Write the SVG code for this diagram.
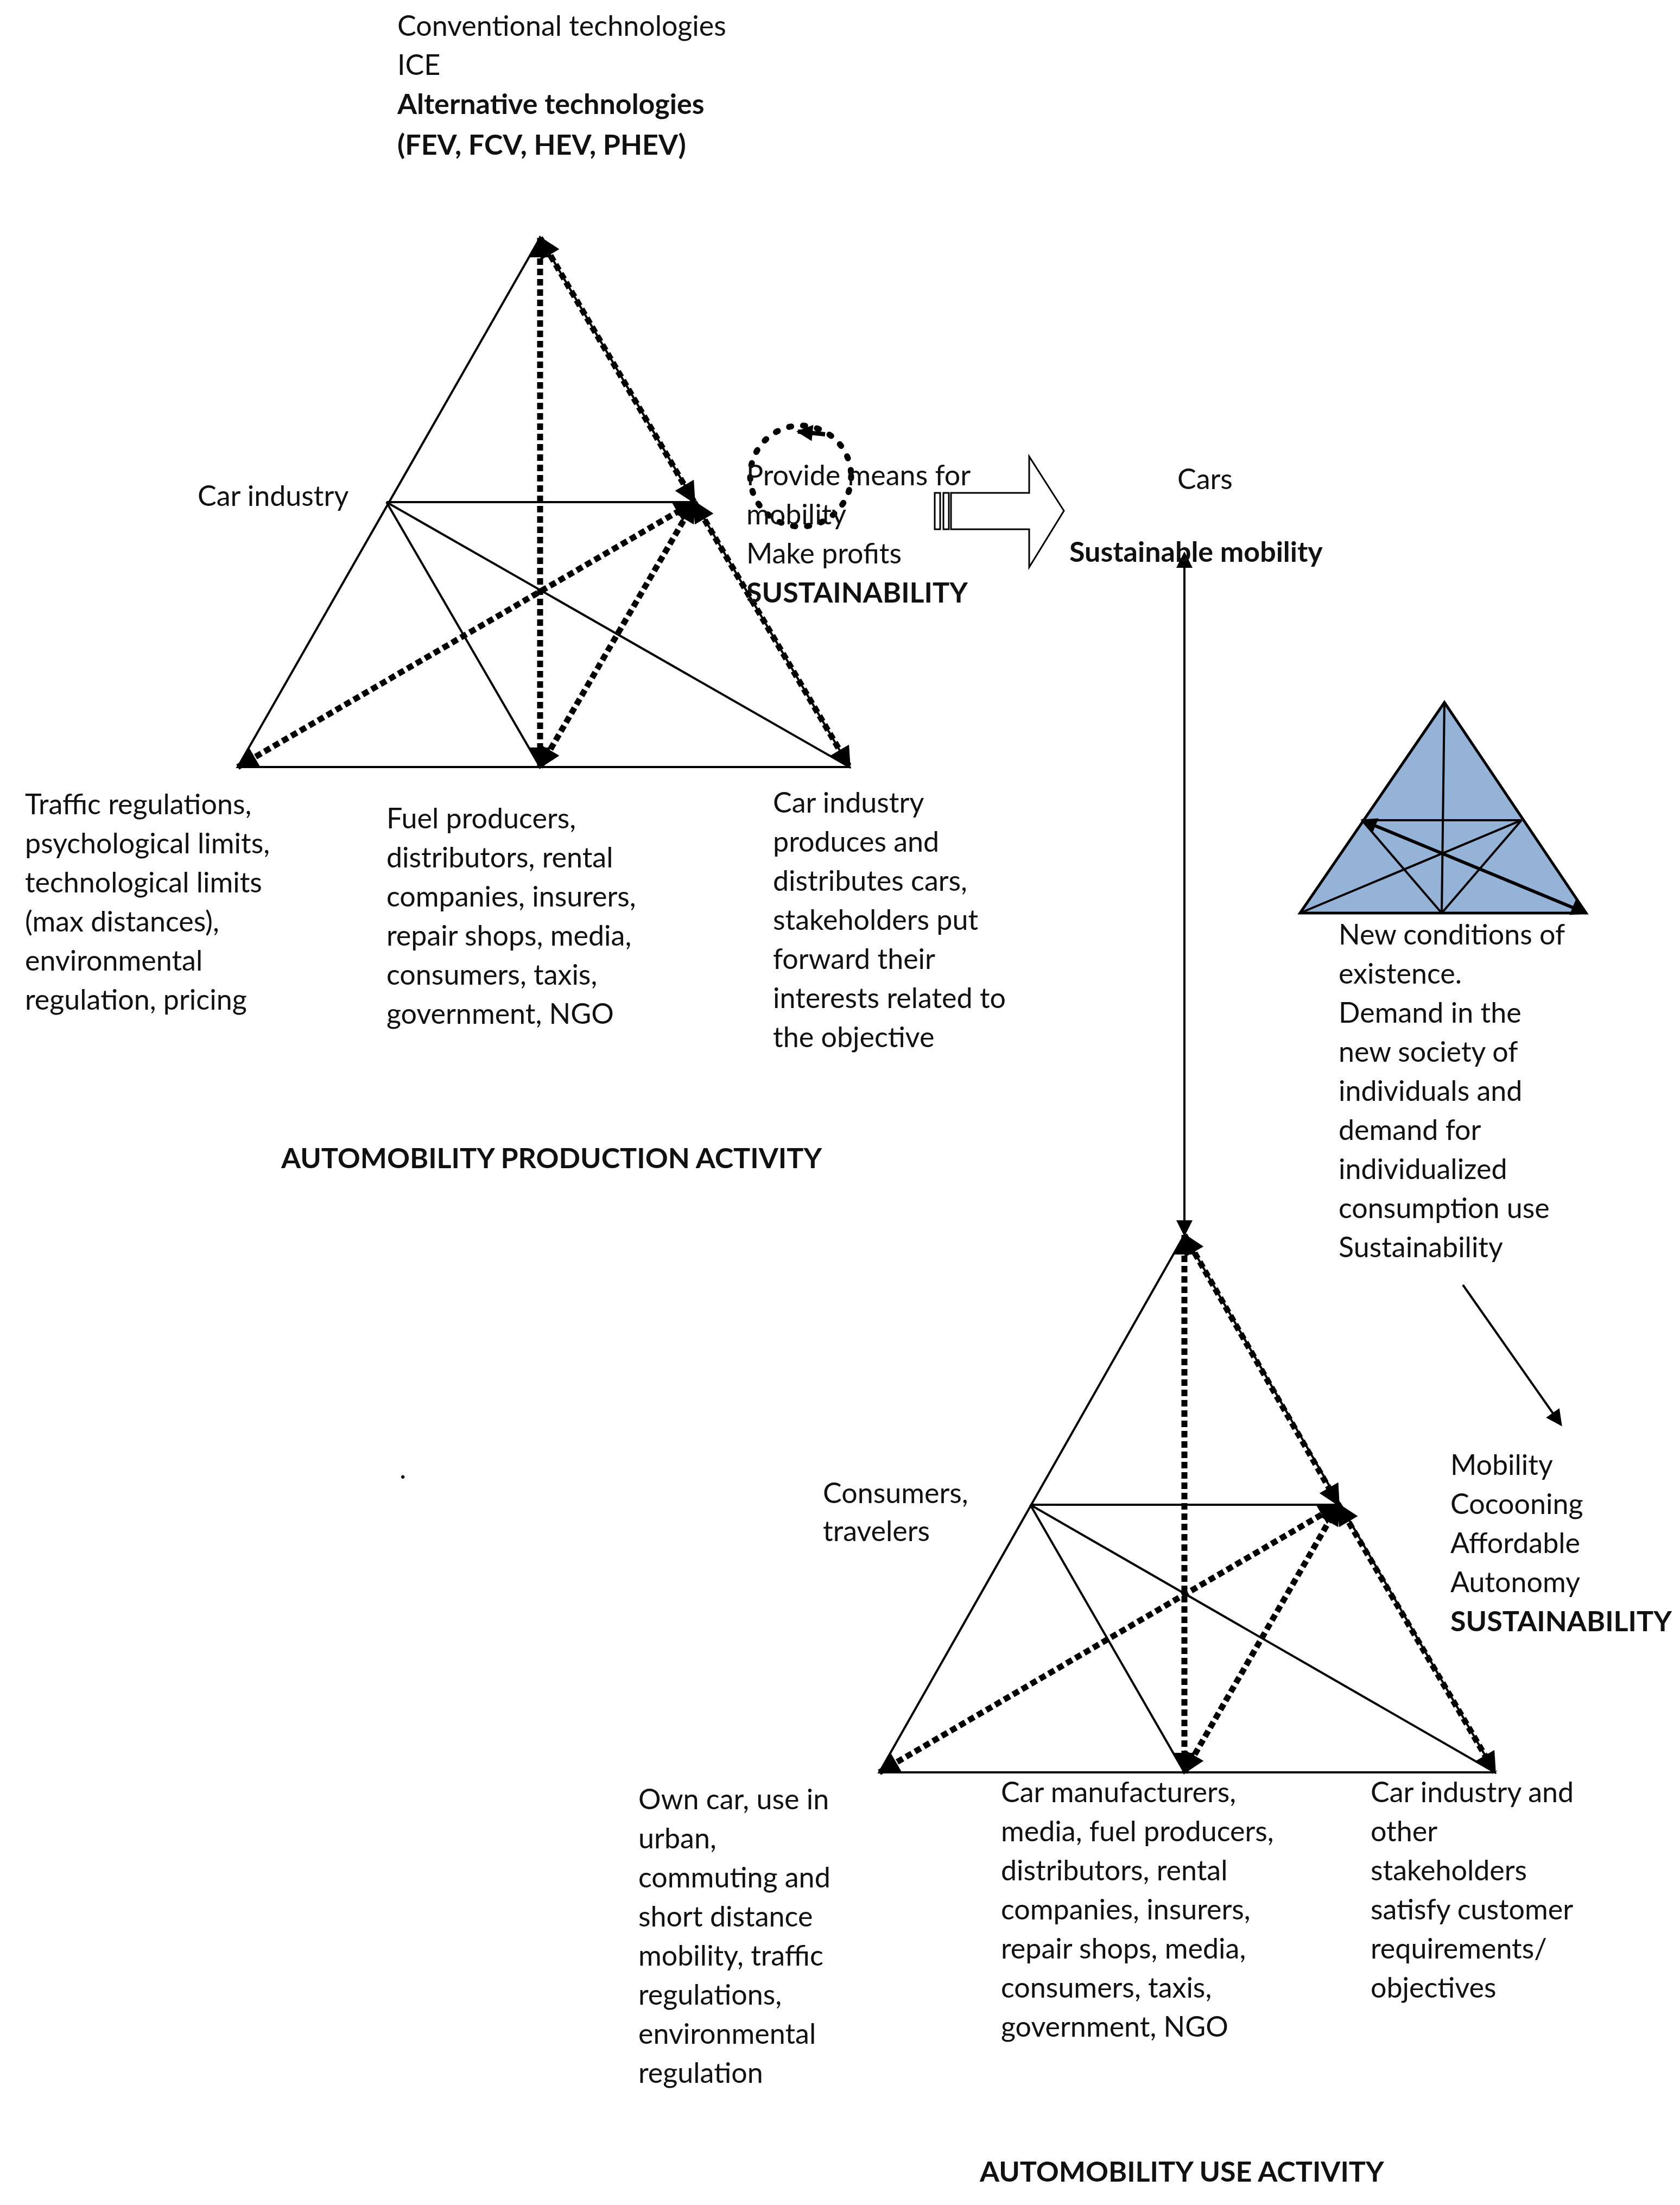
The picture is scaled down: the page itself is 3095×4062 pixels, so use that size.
<svg xmlns="http://www.w3.org/2000/svg" width="3095" height="4062" viewBox="0 0 3095 4062">
<style>
text{font-family:Lato,"Open Sans","Liberation Sans",sans-serif;font-size:52px;fill:#111}
.b{font-weight:bold}
.thin{stroke:#000;stroke-width:4;fill:none}
.dash{stroke:#000;stroke-width:11;stroke-dasharray:12 7;fill:none;marker-start:url(#ah);marker-end:url(#ah)}
</style>
<defs>
<marker id="ah" viewBox="0 0 10 10" refX="9" refY="5" markerWidth="48" markerHeight="40" markerUnits="userSpaceOnUse" orient="auto-start-reverse"><path d="M0,0 L10,5 L0,10 z" fill="#000"/></marker>
<marker id="as" viewBox="0 0 10 10" refX="9" refY="5" markerWidth="34" markerHeight="30" markerUnits="userSpaceOnUse" orient="auto-start-reverse"><path d="M0,0 L10,5 L0,10 z" fill="#000"/></marker>
</defs>
<rect width="3095" height="4062" fill="#fff"/>
<g id="top-triangle">
<polygon class="thin" points="995,438 438,1413 1565,1413"/>
<line class="thin" x1="712" y1="925" x2="1279" y2="925"/>
<line class="thin" x1="712" y1="925" x2="995" y2="1413"/>
<line class="thin" x1="712" y1="925" x2="1565" y2="1413"/>
</g>
<g id="bottom-triangle">
<polygon class="thin" points="2182,2275 1620,3265 2754,3265"/>
<line class="thin" x1="1898" y1="2772" x2="2466" y2="2772"/>
<line class="thin" x1="1898" y1="2772" x2="2182" y2="3265"/>
<line class="thin" x1="1898" y1="2772" x2="2754" y2="3265"/>
</g>
<g id="small-triangle">
<polygon points="2661,1294 2395,1682 2922,1682" fill="#95b3d7" stroke="#000" stroke-width="5"/>
<g stroke="#000" stroke-width="4" fill="none">
<line x1="2661" y1="1294" x2="2656" y2="1682"/>
<line x1="2509" y1="1511" x2="2803" y2="1511"/>
<line x1="2509" y1="1511" x2="2656" y2="1682"/>
<line x1="2803" y1="1511" x2="2656" y2="1682"/>
<line x1="2395" y1="1682" x2="2803" y2="1511"/>
<line x1="2509" y1="1511" x2="2922" y2="1682" stroke-width="6" marker-start="url(#as)" marker-end="url(#as)"/>
</g>
</g>
<g id="connectors">
<line class="dash" x1="995" y1="438" x2="995" y2="1413"/>
<line class="dash" x1="995" y1="438" x2="1279" y2="925"/>
<line class="dash" x1="1279" y1="925" x2="1565" y2="1413"/>
<line class="dash" x1="438" y1="1413" x2="1279" y2="925"/>
<line class="dash" x1="995" y1="1413" x2="1279" y2="925"/>
<line class="dash" x1="2182" y1="2275" x2="2182" y2="3265"/>
<line class="dash" x1="2182" y1="2275" x2="2466" y2="2772"/>
<line class="dash" x1="2466" y1="2772" x2="2754" y2="3265"/>
<line class="dash" x1="1620" y1="3265" x2="2466" y2="2772"/>
<line class="dash" x1="2182" y1="3265" x2="2466" y2="2772"/>
<line x1="2182" y1="1019" x2="2182" y2="2275" stroke="#000" stroke-width="4" marker-start="url(#as)" marker-end="url(#as)"/>
<line x1="2695" y1="2367" x2="2876" y2="2625" stroke="#000" stroke-width="4" marker-end="url(#as)"/>
<circle cx="1475" cy="877" r="93" fill="none" stroke="#000" stroke-width="11" stroke-dasharray="4 22" stroke-linecap="round"/>
<path d="M1520,800 L1470,795" stroke="#000" stroke-width="8" marker-end="url(#as)"/>
<g fill="#fff" stroke="#000" stroke-width="3">
<rect x="1722" y="908" width="10" height="67"/>
<rect x="1738" y="908" width="10" height="67"/>
<path d="M1752,908 L1896,908 L1896,841 L1960,941 L1896,1045 L1896,975 L1752,975 z"/>
</g>
</g>
<g id="labels">
<text x="732" y="66">Conventional technologies</text>
<text x="732" y="138">ICE</text>
<text x="732" y="210" class="b">Alternative technologies</text>
<text x="732" y="285" class="b">(FEV, FCV, HEV, PHEV)</text>
<text x="364" y="932">Car industry</text>
<text x="1375" y="894">Provide means for</text>
<text x="1375" y="966">mobility</text>
<text x="1375" y="1038">Make profits</text>
<text x="1375" y="1110" class="b">SUSTAINABILITY</text>
<text x="2169" y="901">Cars</text>
<text x="1970" y="1035" class="b">Sustainable mobility</text>
<text x="46" y="1500">Traffic regulations,<tspan x="46" dy="72">psychological limits,</tspan><tspan x="46" dy="72">technological limits</tspan><tspan x="46" dy="72">(max distances),</tspan><tspan x="46" dy="72">environmental</tspan><tspan x="46" dy="72">regulation, pricing</tspan></text>
<text x="712" y="1526">Fuel producers,<tspan x="712" dy="72">distributors, rental</tspan><tspan x="712" dy="72">companies, insurers,</tspan><tspan x="712" dy="72">repair shops, media,</tspan><tspan x="712" dy="72">consumers, taxis,</tspan><tspan x="712" dy="72">government, NGO</tspan></text>
<text x="1424" y="1497">Car industry<tspan x="1424" dy="72">produces and</tspan><tspan x="1424" dy="72">distributes cars,</tspan><tspan x="1424" dy="72">stakeholders put</tspan><tspan x="1424" dy="72">forward their</tspan><tspan x="1424" dy="72">interests related to</tspan><tspan x="1424" dy="72">the objective</tspan></text>
<text x="518" y="2152" class="b">AUTOMOBILITY PRODUCTION ACTIVITY</text>
<text x="2466" y="1740">New conditions of<tspan x="2466" dy="72">existence.</tspan><tspan x="2466" dy="72">Demand in the</tspan><tspan x="2466" dy="72">new society of</tspan><tspan x="2466" dy="72">individuals and</tspan><tspan x="2466" dy="72">demand for</tspan><tspan x="2466" dy="72">individualized</tspan><tspan x="2466" dy="72">consumption use</tspan><tspan x="2466" dy="72">Sustainability</tspan></text>
<text x="736" y="2724">.</text>
<text x="1516" y="2769">Consumers,<tspan x="1516" dy="70">travelers</tspan></text>
<text x="2672" y="2717">Mobility<tspan x="2672" dy="72">Cocooning</tspan><tspan x="2672" dy="72">Affordable</tspan><tspan x="2672" dy="72">Autonomy</tspan><tspan x="2672" dy="72" class="b">SUSTAINABILITY</tspan></text>
<text x="1176" y="3333">Own car, use in<tspan x="1176" dy="72">urban,</tspan><tspan x="1176" dy="72">commuting and</tspan><tspan x="1176" dy="72">short distance</tspan><tspan x="1176" dy="72">mobility, traffic</tspan><tspan x="1176" dy="72">regulations,</tspan><tspan x="1176" dy="72">environmental</tspan><tspan x="1176" dy="72">regulation</tspan></text>
<text x="1844" y="3320">Car manufacturers,<tspan x="1844" dy="72">media, fuel producers,</tspan><tspan x="1844" dy="72">distributors, rental</tspan><tspan x="1844" dy="72">companies, insurers,</tspan><tspan x="1844" dy="72">repair shops, media,</tspan><tspan x="1844" dy="72">consumers, taxis,</tspan><tspan x="1844" dy="72">government, NGO</tspan></text>
<text x="2525" y="3320">Car industry and<tspan x="2525" dy="72">other</tspan><tspan x="2525" dy="72">stakeholders</tspan><tspan x="2525" dy="72">satisfy customer</tspan><tspan x="2525" dy="72">requirements/</tspan><tspan x="2525" dy="72">objectives</tspan></text>
<text x="1805" y="4019" class="b">AUTOMOBILITY USE ACTIVITY</text>
</g>
</svg>
